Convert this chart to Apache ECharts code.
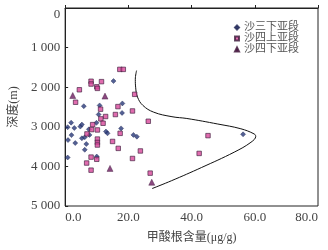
<!DOCTYPE html>
<html><head><meta charset="utf-8">
<script src="https://cdn.jsdelivr.net/npm/echarts@6/dist/echarts.min.js"></script>
<style>html,body{margin:0;padding:0;background:#fff}#c{width:328px;height:250px}</style>
</head><body><div id="c"></div>
<script>
const seriesNames = ['沙三下亚段', '沙四上亚段', '沙四下亚段'];
const xTickValues = [0, 20, 40, 60, 80];
const yTickValues = [0, 1000, 2000, 3000, 4000, 5000];
const xAxisName = '甲酸根含量(μg/g)';
const yAxisName = '深度(m)';

const s3xX = [15.3,5.9,10.9,18.1,18.0,10.6,1.9,0.8,2.9,4.8,5.3,7.5,9.9,2.0,0.9,3.2,5.3,6.2,6.7,6.2,12.9,13.4,17.7,21.6,22.7,0.8,10.0,56.3,7.7];
const s3xD = [1845,2480,2460,2410,2650,2690,2895,3010,3030,2995,2945,3065,2900,3210,3335,3410,3290,3265,3435,3580,3120,3165,3040,3205,3250,3775,3750,3190,3205];

const s4sX = [17.3,18.4,8.2,8.2,11.5,10.0,10.2,4.5,22.0,3.3,16.7,11.2,21.3,15.9,12.8,26.3,11.3,8.7,12.0,8.4,6.9,10.2,17.4,15.0,10.2,10.2,10.2,16.8,23.8,8.2,10.0,21.3,6.8,8.2,26.9,45.2,42.4];
const s4sD = [1550,1550,1850,1920,1860,1990,2030,2065,2180,2380,2490,2555,2600,2690,2740,2860,2800,2945,2910,3070,3180,3080,3165,3370,3310,3395,3460,3545,3610,3765,3820,3800,3915,4095,4170,3223,3672];

const s4xX = [2.4,12.6,14.2,27.4];
const s4xD = [2210,2225,4050,4400];

const curveX = [22.6,22.2,22.3,22.9,24.6,28.0,33.8,38.5,48.3,55.6,59.8,60.3,58.8,53.5,43.1,33.7,27.5];
const curveD = [1580,1800,2000,2250,2460,2630,2745,2790,2930,3050,3180,3240,3390,3640,4030,4360,4560];

const pair = (xs, ds) => xs.map((v, i) => [v, ds[i]]);
const FONT = "'Liberation Serif', 'Noto Sans CJK SC', serif";
const TXT = '#444';
const fmtDepth = v => v >= 1000 ? Math.floor(v / 1000) + ' ' + String(v % 1000).padStart(3, '0') : String(v);

const chart = echarts.init(document.getElementById('c'), null, {renderer: 'canvas'});
chart.setOption({
  animation: false,
  backgroundColor: '#fff',
  grid: {left: 62, right: 10, top: 8, bottom: 44, show: true, borderColor: '#222', borderWidth: 1, backgroundColor: 'transparent'},
  legend: {
    data: seriesNames.map((n, i) => ({name: n, icon: ['diamond', 'rect', 'triangle'][i]})),
    orient: 'vertical', left: 229, top: 17,
    itemWidth: 4, itemHeight: 4, itemGap: 0,
    textStyle: {fontFamily: FONT, fontSize: 11, color: '#555', lineHeight: 10}
  },
  xAxis: {
    type: 'value', min: xTickValues[0], max: xTickValues[xTickValues.length - 1], interval: 20,
    name: xAxisName, nameLocation: 'middle', nameGap: 26,
    nameTextStyle: {fontFamily: FONT, fontSize: 12, color: TXT},
    axisLine: {lineStyle: {color: '#222'}},
    axisTick: {inside: true, length: 3, lineStyle: {color: '#222'}},
    splitLine: {show: false},
    axisLabel: {fontFamily: FONT, fontSize: 13, color: TXT, margin: 5, alignMinLabel: 'left', alignMaxLabel: 'right', formatter: v => v.toFixed(1)}
  },
  yAxis: {
    type: 'value', inverse: true, min: yTickValues[0], max: yTickValues[yTickValues.length - 1], interval: 1000,
    name: yAxisName, nameLocation: 'middle', nameGap: 43, nameRotate: 90,
    nameTextStyle: {fontFamily: FONT, fontSize: 12, color: TXT},
    axisLine: {lineStyle: {color: '#222'}},
    axisTick: {inside: true, length: 3, lineStyle: {color: '#222'}},
    splitLine: {show: false},
    axisLabel: {fontFamily: FONT, fontSize: 13, color: TXT, margin: 5, verticalAlignMinLabel: 'top', formatter: fmtDepth}
  },
  series: [
    {name: seriesNames[0], type: 'scatter', symbol: 'diamond', symbolSize: 5, data: pair(s3xX, s3xD),
     itemStyle: {color: '#283878', borderColor: '#1a2050', borderWidth: 0.5}},
    {name: seriesNames[1], type: 'scatter', symbol: 'rect', symbolSize: 4.5, data: pair(s4sX, s4sD),
     itemStyle: {color: '#d8479a', borderColor: '#3a1a3a', borderWidth: 0.8}},
    {name: seriesNames[2], type: 'scatter', symbol: 'triangle', symbolSize: 6, data: pair(s4xX, s4xD),
     itemStyle: {color: '#6e1d62', borderColor: '#3a0f35', borderWidth: 0.5}},
    {name: 'curve', type: 'line', data: pair(curveX, curveD), smooth: 0.4, symbol: 'none',
     lineStyle: {color: '#111', width: 1}, z: 1}
  ]
});
</script></body></html>
